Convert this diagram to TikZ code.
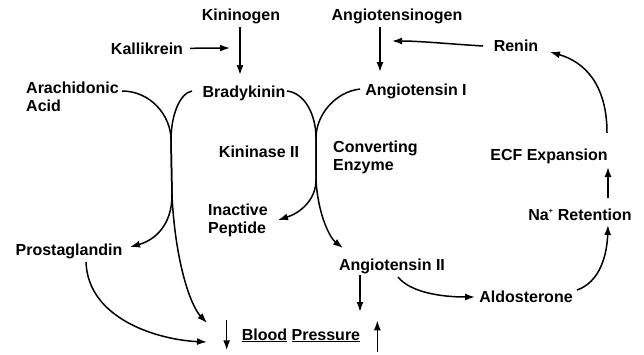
\documentclass[tikz,border=0pt]{standalone}
\usepackage{fontspec}
\setmainfont{Liberation Sans}
\usetikzlibrary{arrows.meta}
\begin{document}
\begin{tikzpicture}[x=1pt,y=-1pt,
  lbl/.style={font=\bfseries\fontsize{16}{18}\selectfont, inner sep=0pt, align=left},
  con/.style={line width=1.5pt, -{Latex[length=10pt,width=7pt]}}]
\useasboundingbox (0,0) rectangle (644,354);
% nodes
\node[lbl,anchor=base] (kininogen) at (241,20) {Kininogen};
\node[lbl,anchor=base] (kallikrein) at (147,54) {Kallikrein};
\node[lbl,anchor=base] (brady) at (244,97) {Bradykinin};
\node[lbl,anchor=base west] (arach) at (26,111) {Arachidonic\\Acid};
\node[lbl,anchor=base] (kininase) at (259,157) {Kininase II};
\node[lbl,anchor=base west] (inactive) at (208,233) {Inactive\\Peptide};
\node[lbl,anchor=base] (prosta) at (69,255) {Prostaglandin};
\node[lbl,anchor=base] (bp) at (301,340) {\underline{Blood} \underline{Pressure}};
\node[lbl,anchor=base] (angen) at (397,20) {Angiotensinogen};
\node[lbl,anchor=base] (ang1) at (416,95) {Angiotensin I};
\node[lbl,anchor=base west] (conv) at (333,170) {Converting\\Enzyme};
\node[lbl,anchor=base] (renin) at (516,51) {Renin};
\node[lbl,anchor=base] (ecf) at (549,160) {ECF Expansion};
\node[lbl,anchor=base] (na) at (580,220) {Na\textsuperscript{\scriptsize +} Retention};
\node[lbl,anchor=base] (aldo) at (526,302) {Aldosterone};
\node[lbl,anchor=base] (ang2) at (392,270) {Angiotensin II};
% coordinates
\coordinate (kk) at (230,48);
\coordinate (kn1) at (240,27);
\coordinate (kn2) at (240,75);
\coordinate (ag1) at (380,27);
\coordinate (ag2) at (380,72);
\coordinate (lc) at (171,140);
\coordinate (ls) at (172,195);
\coordinate (rc) at (316,138);
\coordinate (rs) at (316,180);
\coordinate (arachEnd) at (122,91);
\coordinate (bradyL) at (192,91);
\coordinate (bradyR) at (287,91);
\coordinate (ang1L) at (360,89);
\coordinate (prostaTip) at (130,247);
\coordinate (bpTip1) at (207,323);
\coordinate (bpTip2) at (207,342);
\coordinate (prostaStart) at (86,262);
\coordinate (inTip) at (278,220);
\coordinate (a2Tip) at (343,248);
\coordinate (reninS) at (483,46);
\coordinate (reninT) at (392,41);
\coordinate (ecfS) at (607,133);
\coordinate (reninTip) at (550,52);
\coordinate (naS) at (608,198);
\coordinate (ecfTip) at (608,167);
\coordinate (aldoS) at (577,290);
\coordinate (naTip) at (608,225);
\coordinate (a2S) at (398,277);
\coordinate (aldoTip) at (475,297);
\coordinate (a2d1) at (360,275);
\coordinate (a2d2) at (360,312);
% straight arrows
\draw[con] ([xshift=7pt]kallikrein.east) -- (kk);
\draw[con] (kn1) -- (kn2);
\draw[con] (ag1) -- (ag2);
\draw[con] (reninS) .. controls (450,44) and (420,41) .. (reninT);
\draw[con] (naS) -- (ecfTip);
\draw[con] (a2d1) -- (a2d2);
\draw[con] ([xshift=-15pt,yshift=15pt]bp.west) -- ([xshift=-15pt,yshift=-15pt]bp.west);
\draw[con] ([xshift=17pt,yshift=-17pt]bp.east) -- ([xshift=17pt,yshift=15pt]bp.east);
% left cusp
\draw[con] (arachEnd) .. controls (150,91) and (171,115) .. (lc) -- (ls) .. controls (172,225) and (155,240) .. (prostaTip);
\draw[con] (bradyL) .. controls (180,93) and (171,115) .. (lc) -- (ls) .. controls (175,260) and (190,305) .. (bpTip1);
\draw[con] (prostaStart) .. controls (88,320) and (160,340) .. (bpTip2);
% right cusp
\draw[con] (bradyR) .. controls (305,93) and (316,115) .. (rc) -- (rs) .. controls (316,200) and (300,213) .. (inTip);
\draw[con] (ang1L) .. controls (335,92) and (316,115) .. (rc) -- (rs) .. controls (318,215) and (330,238) .. (a2Tip);
% feedback loop
\draw[con] (ecfS) .. controls (607,85) and (585,62) .. (reninTip);
\draw[con] (aldoS) .. controls (600,282) and (607,255) .. (naTip);
\draw[con] (a2S) .. controls (410,292) and (440,297) .. (aldoTip);
\end{tikzpicture}
\end{document}
